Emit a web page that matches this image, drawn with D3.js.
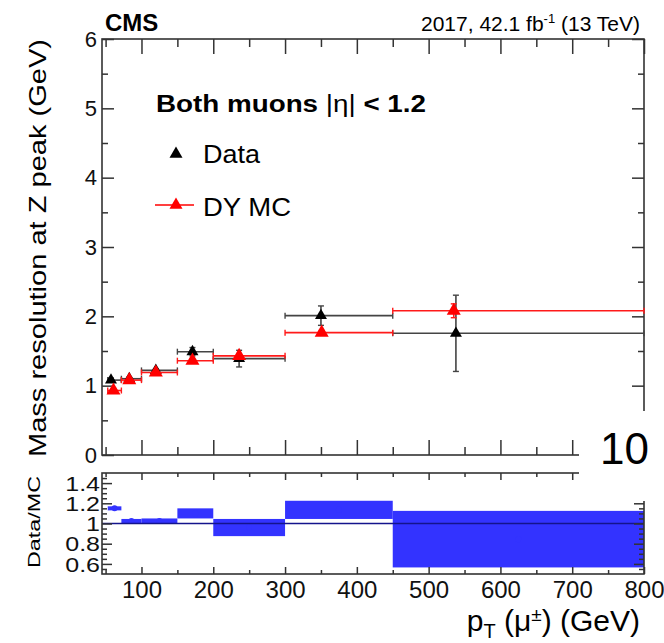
<!DOCTYPE html>
<html>
<head>
<meta charset="utf-8">
<script src="https://cdn.jsdelivr.net/npm/d3@7"></script>
<style>
body{margin:0;background:#fff;}
svg{display:block;}
text{font-family:"Liberation Sans",Arial,Helvetica,sans-serif;}
</style>
</head>
<body>
<svg id="chart" width="664" height="643"></svg>
<script>
/* --- data --- */
var binLo = [53, 72, 100, 150, 200, 300, 450];
var binHi = [72, 100, 150, 200, 300, 450, 800];

var dataPt  = [57.5, 83, 120, 171, 236, 350, 538];
var dataRes = [1.08, 1.10, 1.22, 1.49, 1.39, 2.01, 1.755];
var dataErr = [0.03, 0.02, 0.02, 0.06, 0.12, 0.14, 0.55];

var mcPt  = [61, 83, 120, 171, 236, 351, 535];
var mcRes = [0.93, 1.08, 1.19, 1.36, 1.43, 1.765, 2.08];
var mcErr = [0.015, 0.01, 0.01, 0.02, 0.02, 0.03, 0.10];

var ratio    = [1.15, 1.025, 1.025, 1.10, 0.96, 1.135, 0.845];
var ratioErr = [0.02, 0.02, 0.025, 0.05, 0.085, 0.09, 0.28];

var xMajor = [100, 200, 300, 400, 500, 600, 700, 800];
var xMinor = [50, 150, 250, 350, 450, 550, 650, 750];
var yMajor = [0, 1, 2, 3, 4, 5, 6];
var yMinor = [0.5, 1.5, 2.5, 3.5, 4.5, 5.5];
var rMajor = [0.6, 0.8, 1, 1.2, 1.4];
var rMinor = d3.range(0.55, 1.5, 0.05).map(d => +d.toFixed(2)).filter(d => rMajor.indexOf(d) < 0);

/* --- layout --- */
var svg = d3.select("#chart");
var axisCol = "#333";
var left = 102, right = 644;
var mainTop = 39, mainBot = 455;
var ratTop = 473, ratBot = 574;

var x = d3.scaleLinear([45, 800], [left, right]);
var y = d3.scaleLinear([0, 6], [mainBot, mainTop]);
var yr = d3.scaleLinear([0.5, 1.5], [ratBot, ratTop]);

function axis(gen, scale, vals, size, fmt, tx, ty, pad, fs){
    let g = svg.append("g")
        .attr("transform", "translate(" + tx + "," + ty + ")")
        .call(gen(scale).tickValues(vals).tickSize(-size).tickSizeOuter(0)
              .tickPadding(pad || 3).tickFormat(fmt || (() => "")));
    g.select(".domain").remove();
    g.attr("font-family", null);
    g.selectAll("line").attr("stroke", axisCol).attr("stroke-width", 1.5);
    g.selectAll("text").attr("font-size", fs || 22).attr("fill", "#111");
    return g;
}

// stretch text sideways a bit, like the labels in the original
function widen(sel, k){
    sel.each(function(){
        let w = this.getComputedTextLength();
        if (w > 0) d3.select(this).attr("textLength", w * k).attr("lengthAdjust", "spacingAndGlyphs");
    });
}

/* --- main panel --- */
svg.append("rect").attr("x", left).attr("y", mainTop)
    .attr("width", right - left).attr("height", mainBot - mainTop)
    .attr("fill", "none").attr("stroke", axisCol).attr("stroke-width", 1.6);

axis(d3.axisLeft, y, yMajor, 12, d => d, left, 0, 5, 22);
axis(d3.axisLeft, y, yMinor, 6, null, left, 0);
axis(d3.axisRight, y, yMajor, 12, null, right, 0);
axis(d3.axisRight, y, yMinor, 6, null, right, 0);
axis(d3.axisBottom, x, xMajor, 15, null, 0, mainBot);
axis(d3.axisBottom, x, xMinor, 8, null, 0, mainBot);
axis(d3.axisTop, x, xMajor, 15, null, 0, mainTop);
axis(d3.axisTop, x, xMinor, 8, null, 0, mainTop);

function drawSeries(pts, vals, errs, col, barCol, side){
    let g = svg.append("g");
    let cap = 3;
    pts.forEach(function(p, i){
        let yy = y(vals[i]);
        g.append("line").attr("x1", x(binLo[i])).attr("x2", x(binHi[i]))
            .attr("y1", yy).attr("y2", yy).attr("stroke", barCol).attr("stroke-width", 1.6);
        [binLo[i], binHi[i]].forEach(b => {
            g.append("line").attr("x1", x(b)).attr("x2", x(b))
                .attr("y1", yy - cap).attr("y2", yy + cap).attr("stroke", barCol).attr("stroke-width", 1.4);
        });
        let y1 = y(vals[i] + errs[i]), y2 = y(vals[i] - errs[i]);
        g.append("line").attr("x1", x(p)).attr("x2", x(p))
            .attr("y1", y1).attr("y2", y2).attr("stroke", barCol).attr("stroke-width", 1.6);
        [y1, y2].forEach(v => {
            g.append("line").attr("x1", x(p) - cap).attr("x2", x(p) + cap)
                .attr("y1", v).attr("y2", v).attr("stroke", barCol).attr("stroke-width", 1.4);
        });
    });
    g.selectAll("path.mk").data(pts).join("path").attr("class", "mk")
        .attr("d", d3.symbol(d3.symbolTriangle, Math.sqrt(3) / 4 * side * side))
        .attr("transform", (d, i) => "translate(" + x(d) + "," + y(vals[i]) + ")")
        .attr("fill", col);
}
drawSeries(dataPt, dataRes, dataErr, "#000", "#444", 12);
drawSeries(mcPt, mcRes, mcErr, "#ff0000", "#ff1a1a", 14);

/* --- legend & labels --- */
var tri = d3.symbol(d3.symbolTriangle, Math.sqrt(3) / 4 * 13 * 13);
svg.append("text").attr("x", 156).attr("y", 112).attr("font-size", 23)
    .attr("font-weight", "bold").attr("textLength", 270).attr("lengthAdjust", "spacingAndGlyphs")
    .call(t => {
        t.append("tspan").text("Both muons ");
        t.append("tspan").attr("font-weight", "normal").text("|η|");
        t.append("tspan").text(" < 1.2");
    });
svg.append("path").attr("d", tri).attr("transform", "translate(176,154)").attr("fill", "#000");
svg.append("text").attr("x", 203).attr("y", 163).attr("font-size", 25)
    .attr("textLength", 57).attr("lengthAdjust", "spacingAndGlyphs").text("Data");
svg.append("line").attr("x1", 155).attr("x2", 194).attr("y1", 205).attr("y2", 205)
    .attr("stroke", "#ff0000").attr("stroke-width", 1.6);
svg.append("path").attr("d", tri).attr("transform", "translate(176,205)").attr("fill", "#ff0000");
svg.append("text").attr("x", 203).attr("y", 216).attr("font-size", 25)
    .attr("textLength", 88).attr("lengthAdjust", "spacingAndGlyphs").text("DY MC");

svg.append("text").attr("x", 105).attr("y", 31).attr("font-size", 24)
    .attr("font-weight", "bold").text("CMS");
svg.append("text").attr("x", 640).attr("y", 31).attr("font-size", 21)
    .attr("text-anchor", "end")
    .call(t => {
        t.append("tspan").text("2017, 42.1 fb");
        t.append("tspan").attr("font-size", 13).attr("dy", -8).text("-1");
        t.append("tspan").attr("dy", 8).text(" (13 TeV)");
    });

svg.append("text").attr("transform", "translate(46,248) rotate(-90)")
    .attr("text-anchor", "middle").attr("font-size", 24)
    .attr("textLength", 418).attr("lengthAdjust", "spacingAndGlyphs")
    .text("Mass resolution at Z peak (GeV)");

/* --- ratio panel --- */
var rg = svg.append("g");
binLo.forEach(function(b, i){
    rg.append("rect").attr("x", x(b)).attr("width", x(binHi[i]) - x(b))
        .attr("y", yr(ratio[i] + ratioErr[i]))
        .attr("height", yr(ratio[i] - ratioErr[i]) - yr(ratio[i] + ratioErr[i]))
        .attr("fill", "#3333ff");
    rg.append("circle").attr("cx", x((b + binHi[i]) / 2)).attr("cy", yr(ratio[i]))
        .attr("r", 3).attr("fill", "#3333ff");
});
svg.append("line").attr("x1", left).attr("x2", right).attr("y1", yr(1)).attr("y2", yr(1))
    .attr("stroke", "#14148c").attr("stroke-width", 1.5);

svg.append("rect").attr("x", left).attr("y", ratTop)
    .attr("width", right - left).attr("height", ratBot - ratTop)
    .attr("fill", "none").attr("stroke", axisCol).attr("stroke-width", 1.6);

var rLab = axis(d3.axisLeft, yr, rMajor, 10, d => String(+d.toFixed(1)), left, 0, 2, 20);
rLab.selectAll("text").attr("dy", "0.36em").call(widen, 1.25);
axis(d3.axisLeft, yr, rMinor, 5, null, left, 0);
axis(d3.axisRight, yr, rMajor, 10, null, right, 0);
axis(d3.axisRight, yr, rMinor, 5, null, right, 0);
axis(d3.axisBottom, x, xMajor, 7, d => d, 0, ratBot, 7, 24);
axis(d3.axisBottom, x, xMinor, 4, null, 0, ratBot);
axis(d3.axisTop, x, xMajor, 7, null, 0, ratTop);
axis(d3.axisTop, x, xMinor, 4, null, 0, ratTop);

svg.append("text").attr("transform", "translate(40,522) rotate(-90)")
    .attr("text-anchor", "middle").attr("font-size", 17)
    .attr("textLength", 92).attr("lengthAdjust", "spacingAndGlyphs").text("Data/MC");

svg.append("text").attr("x", 640).attr("y", 631).attr("font-size", 30)
    .attr("text-anchor", "end")
    .call(t => {
        t.append("tspan").text("p");
        t.append("tspan").attr("font-size", 20).attr("dy", 7).text("T");
        t.append("tspan").attr("dy", -7).text(" (μ");
        t.append("tspan").attr("font-size", 19).attr("dy", -10).text("±");
        t.append("tspan").attr("dy", 10).text(") (GeV)");
    });

/* --- stray "10" label pasted over the corner --- */
svg.append("rect").attr("x", 579).attr("y", 411).attr("width", 85).attr("height", 90).attr("fill", "#fff");
svg.append("text").attr("x", 600).attr("y", 464).attr("font-size", 44).text("10");
</script>
</body>
</html>
